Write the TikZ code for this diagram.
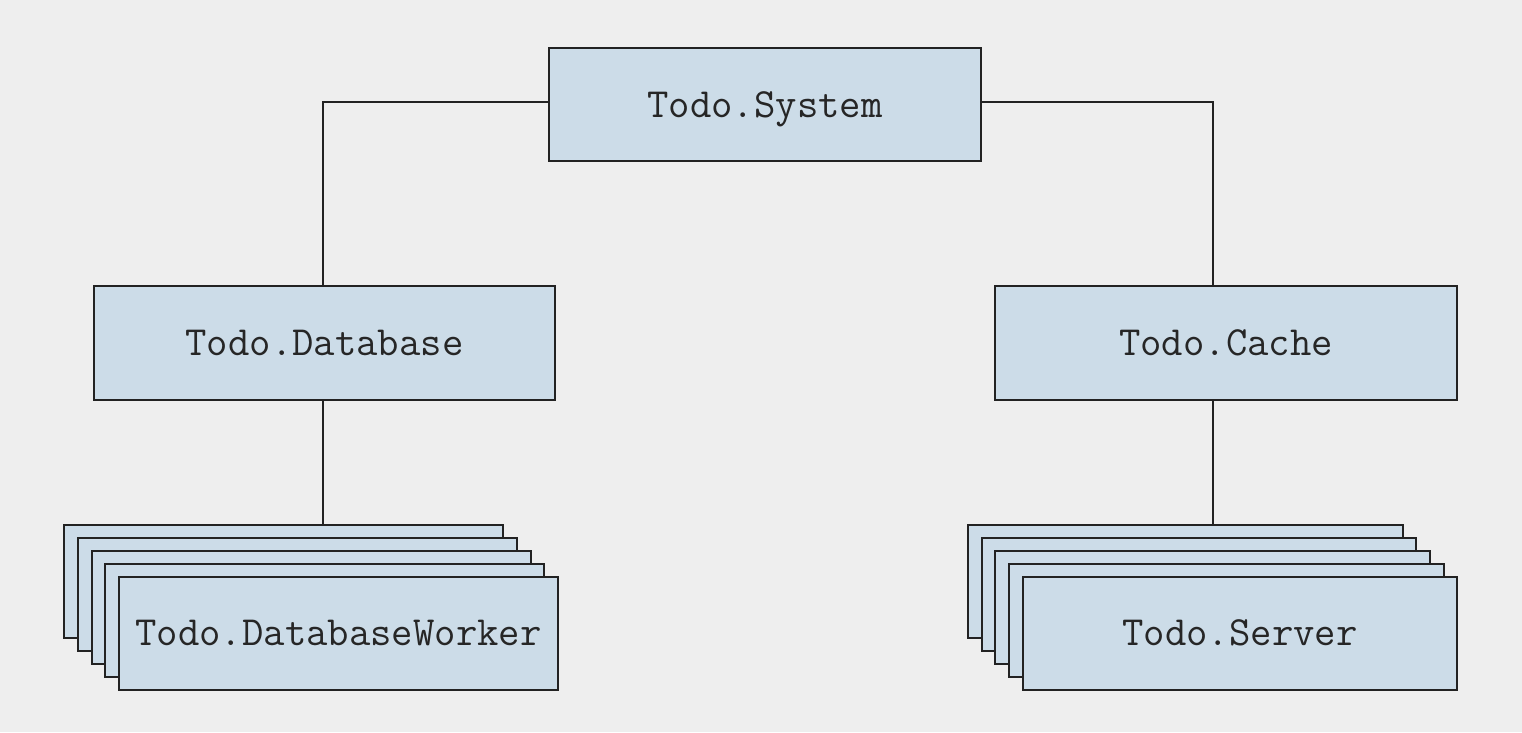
\documentclass[tikz,border=0pt]{standalone}
\usepackage{fontspec}
\definecolor{bg}{HTML}{EEEEEE}
\definecolor{boxfill}{HTML}{CCDCE8}
\definecolor{edge}{HTML}{222222}
\begin{document}
\begin{tikzpicture}[x=1pt,y=-1pt,
  box/.style={draw=edge, fill=boxfill, line width=2pt, rectangle, inner sep=0pt,
    font=\ttfamily\fontsize{41.5}{45}\selectfont, text=black!85,
    text height=25pt, text depth=0pt},
  wire/.style={draw=edge, line width=1.4pt}]
\fill[bg] (0,0) rectangle (1522,732);
\useasboundingbox (0,0) rectangle (1522,732);
% top
\node[box, minimum width=432pt, minimum height=113pt] (sys) at (765,104.5) {Todo.System};
\node[box, minimum width=461pt, minimum height=114pt] (db) at (324.5,343) {Todo.Database};
\node[box, minimum width=462pt, minimum height=114pt] (cache) at (1226,343) {Todo.Cache};
% left stack
\foreach \i in {0,...,3} {
  \node[box, minimum width=439pt, minimum height=113pt] (dw\i) at ({283.5+13.75*\i},{581+13.1*\i}) {};
}
\node[box, minimum width=439pt, minimum height=113pt] (dw4) at (338.5,633.4) {Todo.DatabaseWorker};
% right stack
\foreach \i in {0,...,3} {
  \node[box, minimum width=434.5pt, minimum height=113pt] (sv\i) at ({1185.5+13.6*\i},{581+13.1*\i}) {};
}
\node[box, minimum width=434.5pt, minimum height=113pt] (sv4) at (1240,633.4) {Todo.Server};
% connectors
\coordinate (jl) at (323,102);
\coordinate (jr) at (1213,102);
\draw[wire] (sys.west |- jl) -- (jl) -- (jl |- db.north);
\draw[wire] (sys.east |- jr) -- (jr) -- (jr |- cache.north);
\draw[wire] (db.south -| jl) -- (jl |- dw0.north);
\draw[wire] (cache.south -| jr) -- (jr |- sv0.north);
\end{tikzpicture}
\end{document}
